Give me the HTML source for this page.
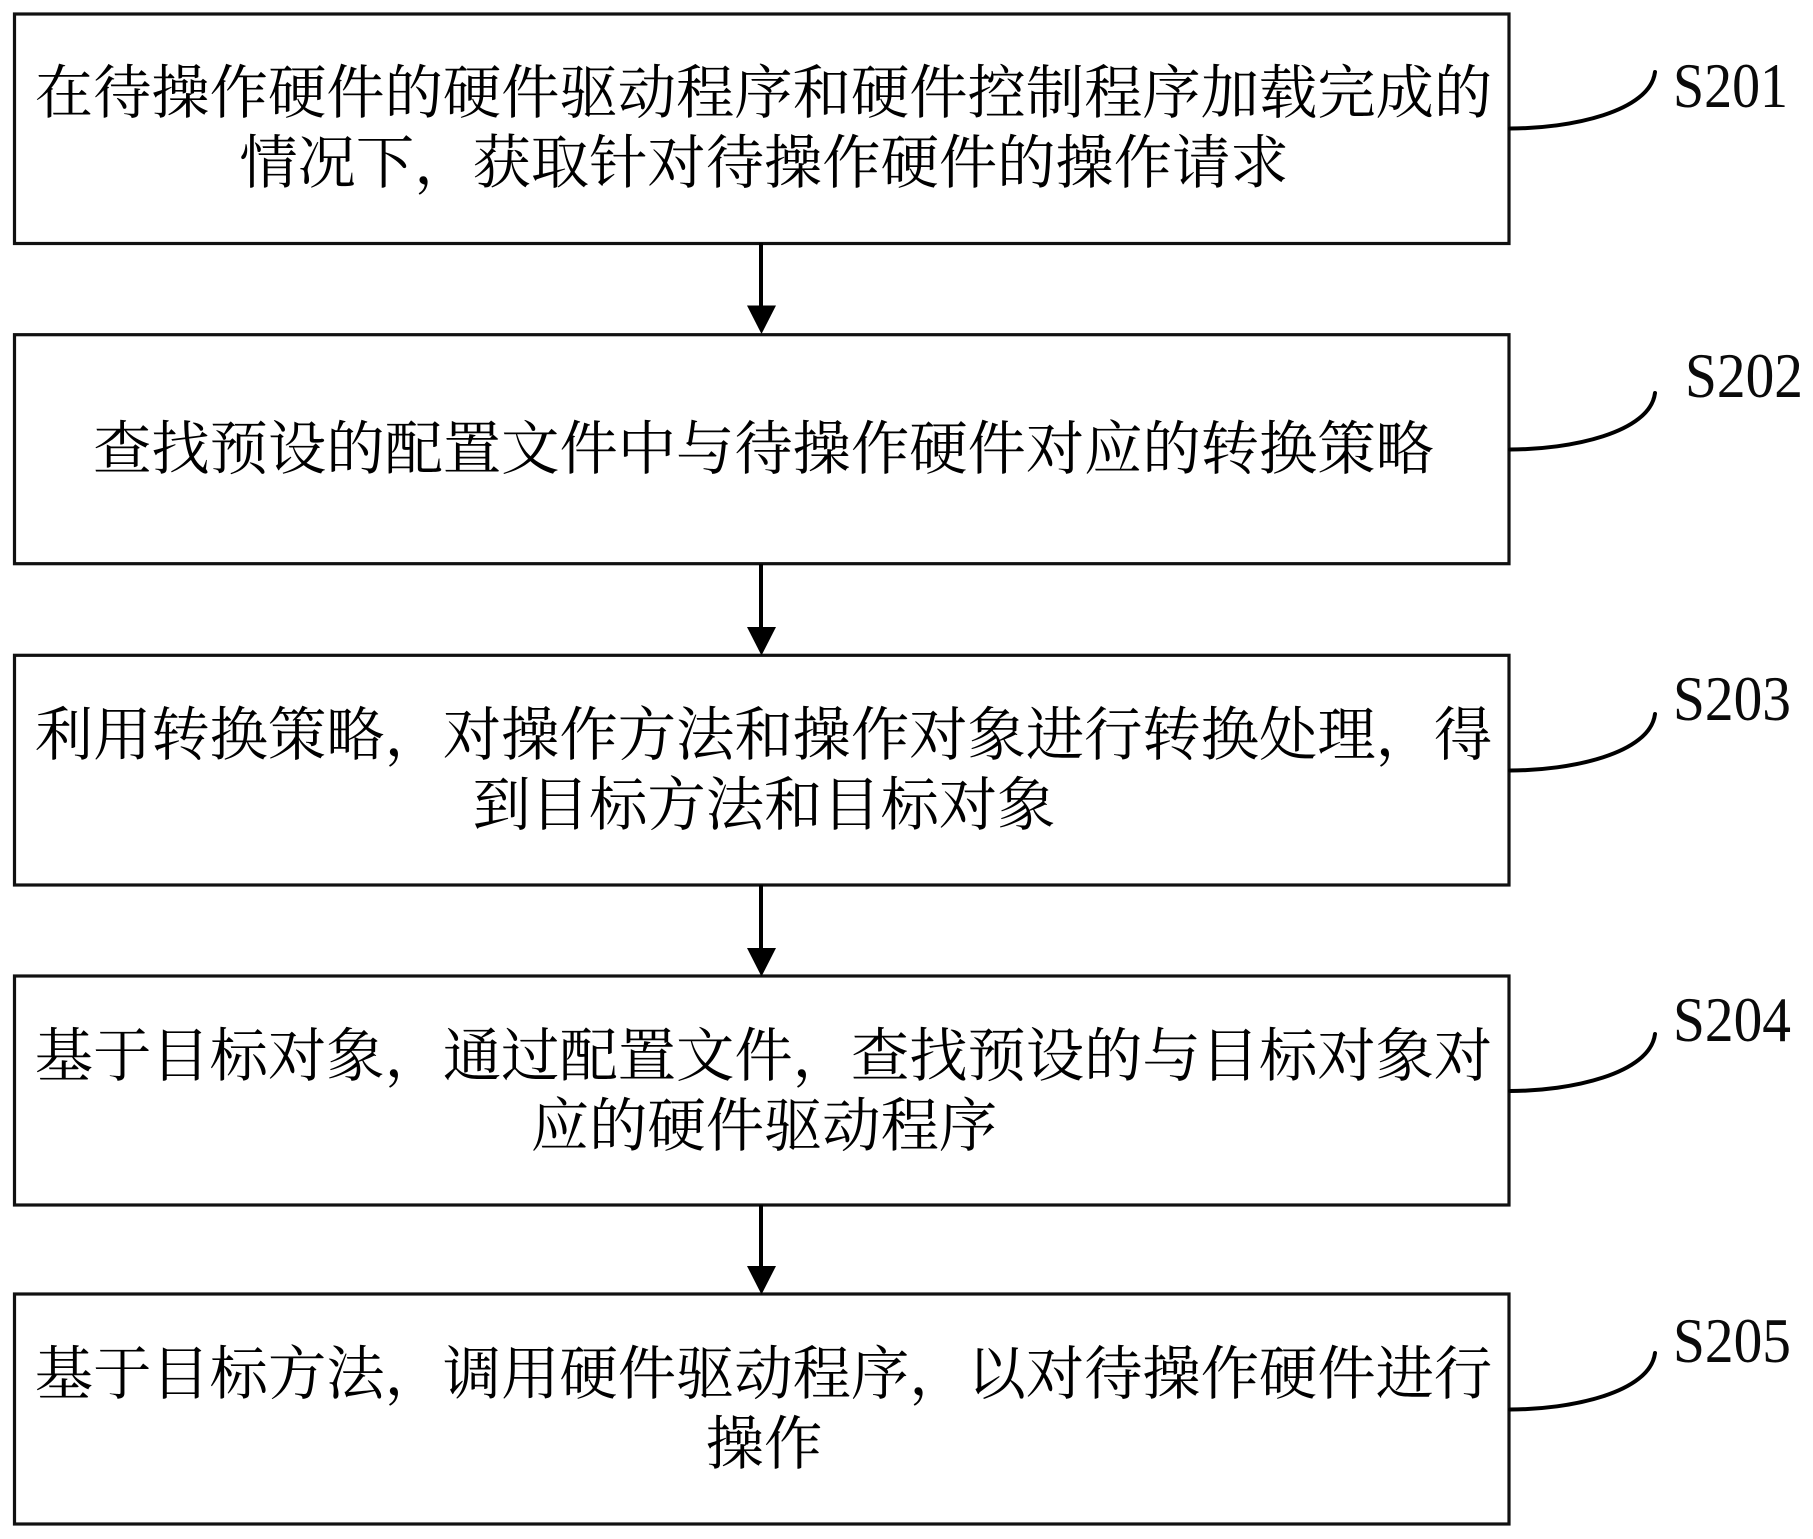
<!DOCTYPE html>
<html lang="zh">
<head>
<meta charset="utf-8">
<title>流程图</title>
<style>
html,body{margin:0;padding:0;background:#fff;}
svg{display:block;}
.t{font-family:"Liberation Serif","Noto Serif CJK SC",serif;font-size:58.3px;fill:#000;text-anchor:middle;}
.l{font-family:"Liberation Serif",serif;font-size:63px;fill:#0a0a0a;}
.b{fill:#fff;stroke:#111;stroke-width:3.2;}
.s{fill:none;stroke:#000;stroke-width:4;}
.c{fill:none;stroke:#000;stroke-width:4;stroke-linecap:round;}
</style>
</head>
<body>
<svg width="1813" height="1539" viewBox="0 0 1813 1539" xmlns="http://www.w3.org/2000/svg">
<rect width="1813" height="1539" fill="#fff"/>

<rect class="b" x="14.5" y="14" width="1494.5" height="229.5"/>
<rect class="b" x="14.5" y="334.7" width="1494.5" height="229"/>
<rect class="b" x="14.5" y="655.3" width="1494.5" height="229.7"/>
<rect class="b" x="14.5" y="976" width="1494.5" height="229"/>
<rect class="b" x="14.5" y="1294" width="1494.5" height="230"/>

<path class="s" d="M761 243V308"/>
<path d="M747 305.5H776L761.5 334Z" fill="#000"/>
<path class="s" d="M761 564V629"/>
<path d="M747 627H776L761.5 655.5Z" fill="#000"/>
<path class="s" d="M761 885V950"/>
<path d="M747 948H776L761.5 976.5Z" fill="#000"/>
<path class="s" d="M761 1205V1268"/>
<path d="M747 1266H776L761.5 1294.5Z" fill="#000"/>

<path class="c" d="M1510 128.5C1570 128.5 1650 112 1655 72"/>
<path class="c" d="M1510 449.5C1570 449.5 1650 433 1655 393"/>
<path class="c" d="M1510 770.5C1570 770.5 1650 754 1655 714"/>
<path class="c" d="M1510 1091C1570 1091 1650 1074 1655 1034"/>
<path class="c" d="M1510 1409.5C1570 1409.5 1650 1393 1655 1353"/>

<text class="t" x="763.5" y="113">在待操作硬件的硬件驱动程序和硬件控制程序加载完成的</text>
<text class="t" x="764" y="183">情况下，获取针对待操作硬件的操作请求</text>
<text class="t" x="763.5" y="469">查找预设的配置文件中与待操作硬件对应的转换策略</text>
<text class="t" x="763.5" y="755">利用转换策略，对操作方法和操作对象进行转换处理，得</text>
<text class="t" x="764" y="825">到目标方法和目标对象</text>
<text class="t" x="763.5" y="1076">基于目标对象，通过配置文件，查找预设的与目标对象对</text>
<text class="t" x="764" y="1146">应的硬件驱动程序</text>
<text class="t" x="763.5" y="1394">基于目标方法，调用硬件驱动程序，以对待操作硬件进行</text>
<text class="t" x="764" y="1464">操作</text>

<text class="l" x="1673" y="107" textLength="115" lengthAdjust="spacingAndGlyphs">S201</text>
<text class="l" x="1685" y="397" textLength="118" lengthAdjust="spacingAndGlyphs">S202</text>
<text class="l" x="1673" y="720" textLength="118" lengthAdjust="spacingAndGlyphs">S203</text>
<text class="l" x="1673" y="1041" textLength="118" lengthAdjust="spacingAndGlyphs">S204</text>
<text class="l" x="1673" y="1362" textLength="118" lengthAdjust="spacingAndGlyphs">S205</text>
</svg>
</body>
</html>
